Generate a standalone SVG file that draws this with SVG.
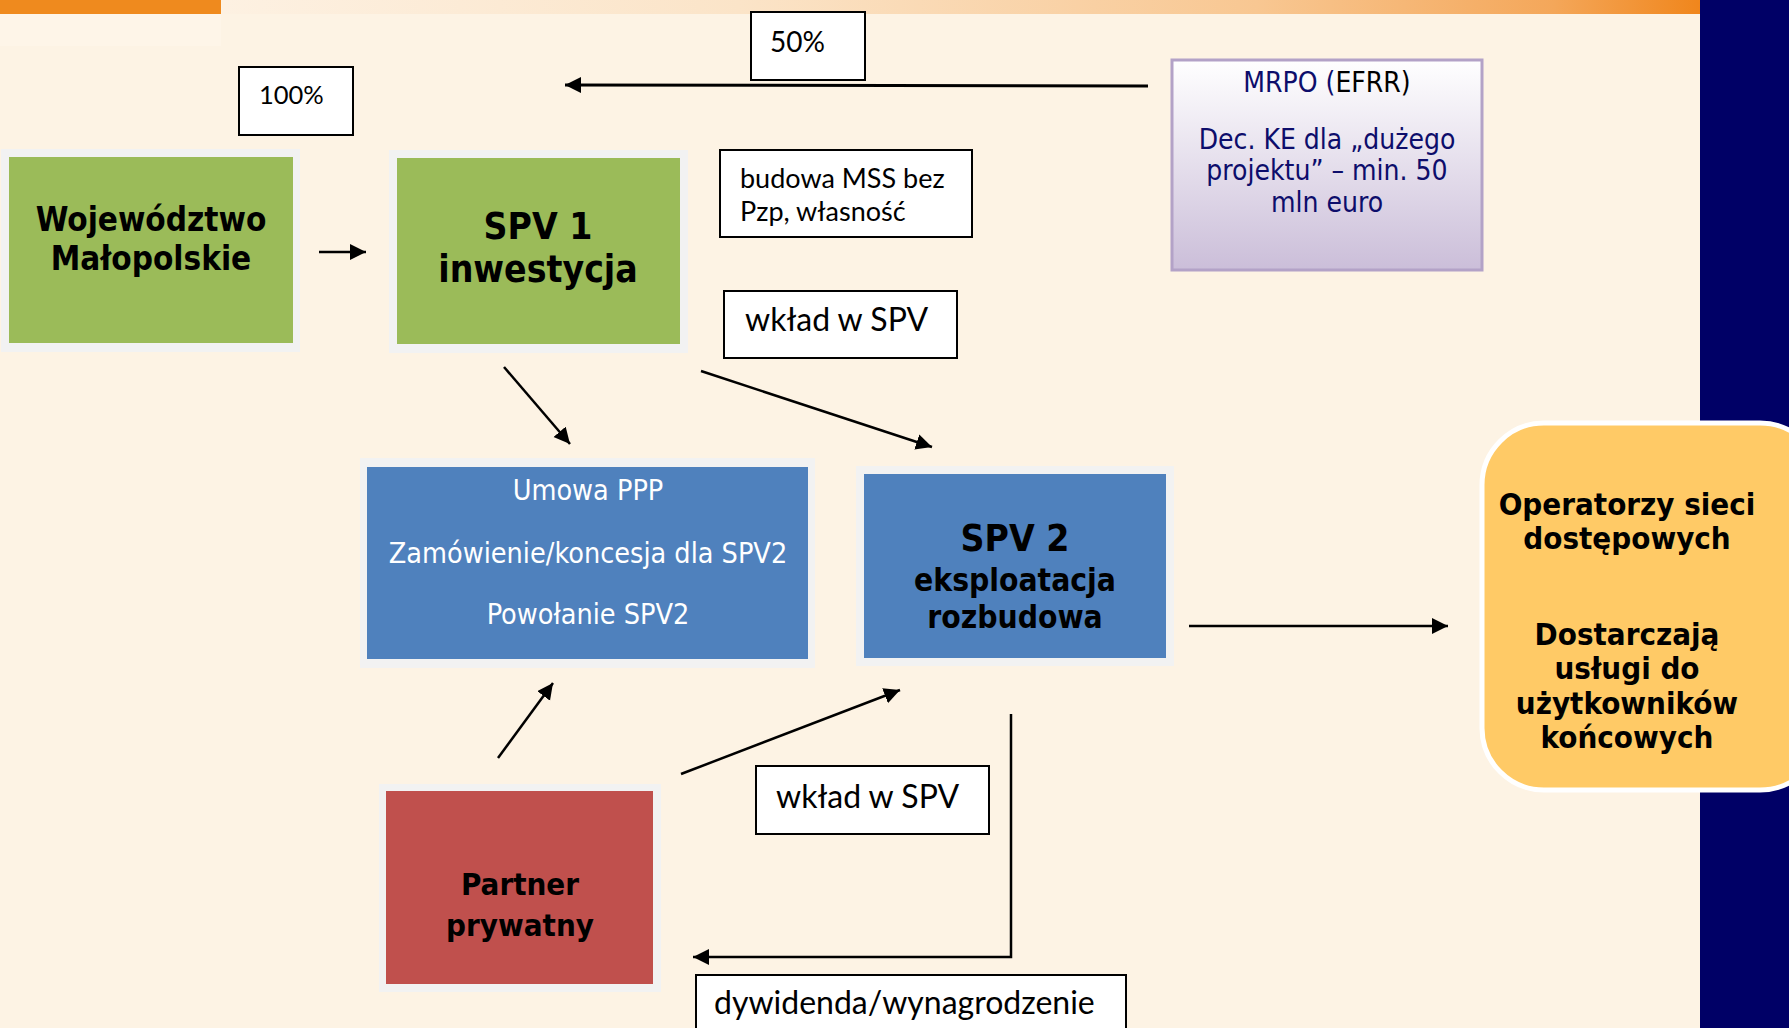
<svg xmlns="http://www.w3.org/2000/svg" width="1789" height="1028" viewBox="0 0 1789 1028">
<defs>
<style>
.frame{fill:#F2F2F2}
.green{fill:#9BBB59}
.blue{fill:#4F81BD}
.red{fill:#C0504D}
.lbl{fill:#FFFFFF;stroke:#000000;stroke-width:2}
.bold{font-family:"DejaVu Sans Condensed","DejaVu Sans",sans-serif;font-stretch:condensed;font-weight:bold;fill:#000000;text-anchor:middle}
.tah{font-family:"DejaVu Sans Condensed","DejaVu Sans",sans-serif;font-stretch:condensed;text-anchor:middle}
.cal{font-family:Lato,"Open Sans",sans-serif;fill:#000000}
.conn{stroke:#000000;stroke-width:2.5;fill:none;marker-end:url(#arr)}
</style>
<linearGradient id="topbar" x1="0" y1="0" x2="1" y2="0">
<stop offset="0" stop-color="#FDF1E2"/>
<stop offset="0.35" stop-color="#FBE4C8"/>
<stop offset="0.7" stop-color="#F8C792"/>
<stop offset="0.9" stop-color="#F4A75A"/>
<stop offset="1" stop-color="#F0861C"/>
</linearGradient>
<linearGradient id="mrpo" x1="0" y1="0" x2="0" y2="1">
<stop offset="0" stop-color="#FFFFFF"/>
<stop offset="1" stop-color="#CBBED9"/>
</linearGradient>
<marker id="arr" markerUnits="userSpaceOnUse" markerWidth="18" markerHeight="18" refX="16" refY="8" orient="auto">
<path d="M0,0 L16,8 L0,16 z" fill="#000000"/>
</marker>
</defs>

<g id="background">
<rect x="0" y="0" width="1789" height="1028" fill="#FDF3E4"/>
<rect x="0" y="14" width="221" height="32" fill="#FEF5E8"/>
<rect x="0" y="0" width="221" height="14" fill="#EF8A1E"/>
<rect x="222" y="0" width="1478" height="14" fill="url(#topbar)"/>
<rect x="1700" y="0" width="89" height="1028" fill="#000066"/>
</g>

<g id="connectors">
<path class="conn" style="stroke-width:3" d="M1148,86 L565,85"/>
<path class="conn" d="M319,252 L366,252"/>
<path class="conn" d="M504,367 L570,444"/>
<path class="conn" d="M701,371 L932,447"/>
<path class="conn" d="M1189,626 L1448,626"/>
<path class="conn" d="M498,758 L553,683"/>
<path class="conn" d="M681,774 L900,690"/>
<path class="conn" d="M1011,714 L1011,957 L693,957"/>
</g>

<g id="wojewodztwo">
<rect class="frame" x="1" y="149" width="299" height="203"/>
<rect class="green" x="9" y="157" width="284" height="186"/>
<text class="bold" font-size="33" x="151" y="231">Województwo</text>
<text class="bold" font-size="33" x="151" y="270">Małopolskie</text>
</g>

<g id="spv1">
<rect class="frame" x="389" y="150" width="299" height="203"/>
<rect class="green" x="397" y="158" width="283" height="186"/>
<text class="bold" font-size="37" x="538" y="239">SPV 1</text>
<text class="bold" font-size="37" x="538" y="282">inwestycja</text>
</g>

<g id="mrpo-box">
<rect x="1172" y="60" width="310" height="210" fill="url(#mrpo)" stroke="#B3A2C7" stroke-width="3"/>
<text class="tah" font-size="28" x="1327" y="92" fill="#0D0D6B">MRPO (<tspan fill="#000000">EFRR)</tspan></text>
<text class="tah" font-size="28" x="1327" y="149" fill="#0D0D6B">Dec. KE dla „dużego</text>
<text class="tah" font-size="28" x="1327" y="180" fill="#0D0D6B">projektu” – min. 50</text>
<text class="tah" font-size="28" x="1327" y="212" fill="#0D0D6B">mln euro</text>
</g>

<g id="umowa">
<rect class="frame" x="360" y="458" width="455" height="210"/>
<rect class="blue" x="367" y="467" width="441" height="192"/>
<text class="tah" font-size="28.5" x="588" y="500" fill="#FFFFFF">Umowa PPP</text>
<text class="tah" font-size="28.5" x="588" y="563" fill="#FFFFFF">Zamówienie/koncesja dla SPV2</text>
<text class="tah" font-size="28.5" x="588" y="624" fill="#FFFFFF">Powołanie SPV2</text>
</g>

<g id="spv2">
<rect class="frame" x="856" y="466" width="318" height="200"/>
<rect class="blue" x="864" y="474" width="302" height="184"/>
<text class="bold" font-size="37" x="1015" y="551">SPV 2</text>
<text class="bold" font-size="31.5" x="1015" y="591">eksploatacja</text>
<text class="bold" font-size="31.5" x="1015" y="628">rozbudowa</text>
</g>

<g id="partner">
<rect class="frame" x="379" y="784" width="282" height="208"/>
<rect class="red" x="386" y="791" width="267" height="193"/>
<text class="bold" font-size="31" x="520" y="895">Partner</text>
<text class="bold" font-size="31" x="520" y="936">prywatny</text>
</g>

<g id="operatorzy">
<rect x="1482" y="423" width="340" height="367" rx="62" ry="62" fill="#FFCA66" stroke="#FFFFFF" stroke-width="5"/>
<text class="bold" font-size="31" x="1627" y="515">Operatorzy sieci</text>
<text class="bold" font-size="31" x="1627" y="549">dostępowych</text>
<text class="bold" font-size="31" x="1627" y="645">Dostarczają</text>
<text class="bold" font-size="31" x="1627" y="679">usługi do</text>
<text class="bold" font-size="31" x="1627" y="714">użytkowników</text>
<text class="bold" font-size="31" x="1627" y="748">końcowych</text>
</g>

<g id="label-50">
<rect class="lbl" x="751" y="12" width="114" height="68"/>
<text class="cal" font-size="28" x="770" y="52">50%</text>
</g>

<g id="label-100">
<rect class="lbl" x="239" y="67" width="114" height="68"/>
<text class="cal" font-size="25.5" x="259" y="104">100%</text>
</g>

<g id="label-budowa">
<rect class="lbl" x="720" y="150" width="252" height="87"/>
<text class="cal" font-size="27" x="740" y="188">budowa MSS bez</text>
<text class="cal" font-size="27" x="740" y="221">Pzp, własność</text>
</g>

<g id="label-wklad1">
<rect class="lbl" x="724" y="291" width="233" height="67"/>
<text class="cal" font-size="32" x="745" y="331">wkład w SPV</text>
</g>

<g id="label-wklad2">
<rect class="lbl" x="756" y="766" width="233" height="68"/>
<text class="cal" font-size="32" x="776" y="808">wkład w SPV</text>
</g>

<g id="label-dywidenda">
<rect class="lbl" x="696" y="975" width="430" height="80"/>
<text class="cal" font-size="32" x="714" y="1014">dywidenda/wynagrodzenie</text>
</g>
</svg>
